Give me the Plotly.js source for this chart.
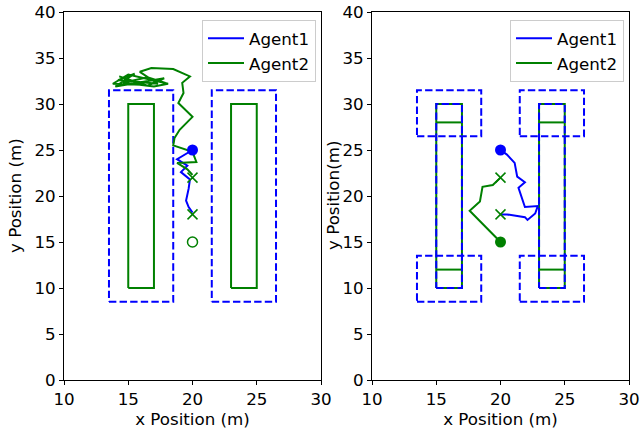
<!DOCTYPE html>
<html>
<head>
<meta charset="utf-8">
<script src="https://cdn.plot.ly/plotly-3.0.1.min.js"></script>
<style>html,body{margin:0;padding:0;background:#fff;}#chart{width:641px;height:435px;}</style>
</head>
<body>
<div id="chart"></div>
<script>
// ---- data ----
const xTicks = [10, 15, 20, 25, 30];
const yTicks = [0, 5, 10, 15, 20, 25, 30, 35, 40];

// obstacles (solid green): [x0, x1, y0, y1]
const obstacles = [[15, 17, 10, 30], [23, 25, 10, 30]];
// left plot dashed regions
const leftRegions = [[13.5, 18.5, 8.5, 31.5], [21.5, 26.5, 8.5, 31.5]];
// right plot dashed regions
const rightRegions = [[13.5, 18.5, 26.5, 31.5], [13.5, 18.5, 8.5, 13.5], [21.5, 26.5, 26.5, 31.5], [21.5, 26.5, 8.5, 13.5]];
// right plot horizontal divider lines inside obstacles: [x0, x1, y]
const dividers = [[15, 17, 28], [15, 17, 12], [23, 25, 28], [23, 25, 12]];

// left plot trajectories
const leftAgent1X = [20.0, 18.8, 19.6, 19.1, 19.8, 19.7, 19.5, 19.7, 20.0];
const leftAgent1Y = [25.0, 24.0, 23.3, 22.6, 21.8, 20.8, 19.5, 18.8, 18.2];
const leftAgent2X = [20.0, 19.6, 18.8, 20.3, 20.0, 18.5, 18.6, 19.0, 20.0, 18.9, 19.3, 19.2, 19.8, 18.5, 16.8, 15.9,
  17.3, 14.2, 15.5, 14.0, 17.8, 16.5, 14.3, 16.0, 13.8, 15.0, 18.1, 17.0, 14.6, 16.5, 17.9];
const leftAgent2Y = [22.3, 22.9, 23.6, 23.7, 24.8, 25.5, 26.3, 27.2, 28.6, 30.1, 31.2, 32.3, 33.0, 33.8, 33.9, 33.5,
  32.2, 32.6, 33.3, 31.9, 32.8, 32.0, 33.0, 32.1, 32.2, 33.2, 32.2, 31.9, 32.3, 32.9, 32.3];

// right plot trajectories
const rightAgent1X = [20.0, 20.5, 21.1, 21.3, 21.9, 21.4, 21.9, 22.9, 22.7, 22.1, 21.9, 20.5, 20.0];
const rightAgent1Y = [25.0, 24.5, 23.6, 22.1, 21.5, 20.9, 18.8, 18.9, 18.1, 17.4, 17.7, 18.0, 18.0];
const rightAgent2X = [20.0, 17.6, 18.4, 18.6, 19.4, 20.0];
const rightAgent2Y = [15.0, 18.4, 19.4, 21.0, 21.2, 22.0];

// markers
const agent1StartX = [20], agent1StartY = [25];
const goalX = [20, 20], goalY = [22, 18];
const agent2StartX = [20], agent2StartY = [15];

// ---- styles ----
const BLUE = '#0000ff', GREEN = '#008000';
const FONT = 'DejaVu Sans', FS = 16.7;

function joined(list) {
  const x = [], y = [];
  list.forEach(r => { x.push(r[0], r[1], r[1], r[0], r[0], null); y.push(r[2], r[2], r[3], r[3], r[2], null); });
  return {x, y};
}
function segs(list) {
  const x = [], y = [];
  list.forEach(d => { x.push(d[0], d[1], null); y.push(d[2], d[2], null); });
  return {x, y};
}

const DASH = '7.4px,3.2px';
const traces = [];
// left plot
const obs = joined(obstacles);
traces.push({x: obs.x, y: obs.y, mode: 'lines', line: {color: GREEN, width: 2}, showlegend: false, xaxis: 'x', yaxis: 'y'});
const lr = joined(leftRegions);
traces.push({x: lr.x, y: lr.y, mode: 'lines', line: {color: BLUE, width: 2, dash: DASH}, showlegend: false, xaxis: 'x', yaxis: 'y'});
traces.push({x: leftAgent1X, y: leftAgent1Y, mode: 'lines', name: 'Agent1', line: {color: BLUE, width: 2}, xaxis: 'x', yaxis: 'y', legend: 'legend'});
traces.push({x: leftAgent2X, y: leftAgent2Y, mode: 'lines', name: 'Agent2', line: {color: GREEN, width: 2}, xaxis: 'x', yaxis: 'y', legend: 'legend'});
traces.push({x: agent1StartX, y: agent1StartY, mode: 'markers', marker: {color: BLUE, size: 11}, showlegend: false, xaxis: 'x', yaxis: 'y'});
traces.push({x: goalX, y: goalY, mode: 'markers', marker: {color: GREEN, size: 10, symbol: 'x-thin', line: {color: GREEN, width: 1.5}}, showlegend: false, xaxis: 'x', yaxis: 'y'});
traces.push({x: agent2StartX, y: agent2StartY, mode: 'markers', marker: {color: GREEN, size: 10, symbol: 'circle-open', line: {color: GREEN, width: 1.5}}, showlegend: false, xaxis: 'x', yaxis: 'y'});

// right plot
traces.push({x: obs.x, y: obs.y, mode: 'lines', line: {color: GREEN, width: 2}, showlegend: false, xaxis: 'x2', yaxis: 'y2'});
const dv = segs(dividers);
traces.push({x: dv.x, y: dv.y, mode: 'lines', line: {color: GREEN, width: 2}, showlegend: false, xaxis: 'x2', yaxis: 'y2'});
traces.push({x: obs.x, y: obs.y, mode: 'lines', line: {color: BLUE, width: 2, dash: DASH}, showlegend: false, xaxis: 'x2', yaxis: 'y2'});
const rr = joined(rightRegions);
traces.push({x: rr.x, y: rr.y, mode: 'lines', line: {color: BLUE, width: 2, dash: DASH}, showlegend: false, xaxis: 'x2', yaxis: 'y2'});
traces.push({x: rightAgent1X, y: rightAgent1Y, mode: 'lines', name: 'Agent1', line: {color: BLUE, width: 2}, xaxis: 'x2', yaxis: 'y2', legend: 'legend2'});
traces.push({x: rightAgent2X, y: rightAgent2Y, mode: 'lines', name: 'Agent2', line: {color: GREEN, width: 2}, xaxis: 'x2', yaxis: 'y2', legend: 'legend2'});
traces.push({x: agent1StartX, y: agent1StartY, mode: 'markers', marker: {color: BLUE, size: 11}, showlegend: false, xaxis: 'x2', yaxis: 'y2'});
traces.push({x: goalX, y: goalY, mode: 'markers', marker: {color: GREEN, size: 10, symbol: 'x-thin', line: {color: GREEN, width: 1.5}}, showlegend: false, xaxis: 'x2', yaxis: 'y2'});
traces.push({x: agent2StartX, y: agent2StartY, mode: 'markers', marker: {color: GREEN, size: 11}, showlegend: false, xaxis: 'x2', yaxis: 'y2'});

const axisCommon = {
  showgrid: false, zeroline: false, showline: true, linecolor: '#000', linewidth: 1, mirror: true,
  ticks: 'outside', ticklen: 4, tickwidth: 1, tickcolor: '#000',
  tickfont: {family: FONT, size: FS, color: '#000'}
};
const xd1 = [64 / 641, 321 / 641], xd2 = [372 / 641, 629 / 641], yd = [1 - 380 / 435, 1 - 12 / 435];
const xTitle = {text: 'x Position (m)', font: {family: FONT, size: FS, color: '#000'}, standoff: 5};

const legendCommon = {
  bgcolor: 'rgba(255,255,255,0.8)', bordercolor: '#cccccc', borderwidth: 1,
  font: {family: FONT, size: FS, color: '#000'}, xanchor: 'right', yanchor: 'top',
  traceorder: 'normal', itemwidth: 36
};

const layout = {
  width: 641, height: 435, margin: {l: 0, r: 0, t: 0, b: 0},
  paper_bgcolor: '#fff', plot_bgcolor: '#fff',
  xaxis: Object.assign({}, axisCommon, {domain: xd1, range: [10, 30], tickvals: xTicks, anchor: 'y', title: xTitle}),
  yaxis: Object.assign({}, axisCommon, {domain: yd, range: [0, 40], tickvals: yTicks, anchor: 'x'}),
  xaxis2: Object.assign({}, axisCommon, {domain: xd2, range: [10, 30], tickvals: xTicks, anchor: 'y2', title: xTitle}),
  yaxis2: Object.assign({}, axisCommon, {domain: yd, range: [0, 40], tickvals: yTicks, anchor: 'x2'}),
  legend: Object.assign({}, legendCommon, {x: 316 / 641, y: 1 - 20 / 435}),
  legend2: Object.assign({}, legendCommon, {x: 624 / 641, y: 1 - 20 / 435}),
  annotations: [
    {text: 'y Position (m)', xref: 'paper', yref: 'paper', x: 15 / 641, y: 1 - 196 / 435, xanchor: 'center', yanchor: 'middle', textangle: -90, showarrow: false, font: {family: FONT, size: FS, color: '#000'}},
    {text: 'y Position(m)', xref: 'paper', yref: 'paper', x: 333 / 641, y: 1 - 196 / 435, xanchor: 'center', yanchor: 'middle', textangle: -90, showarrow: false, font: {family: FONT, size: FS, color: '#000'}}
  ]
};

Plotly.newPlot('chart', traces, layout, {staticPlot: true, displayModeBar: false});
</script>
</body>
</html>
